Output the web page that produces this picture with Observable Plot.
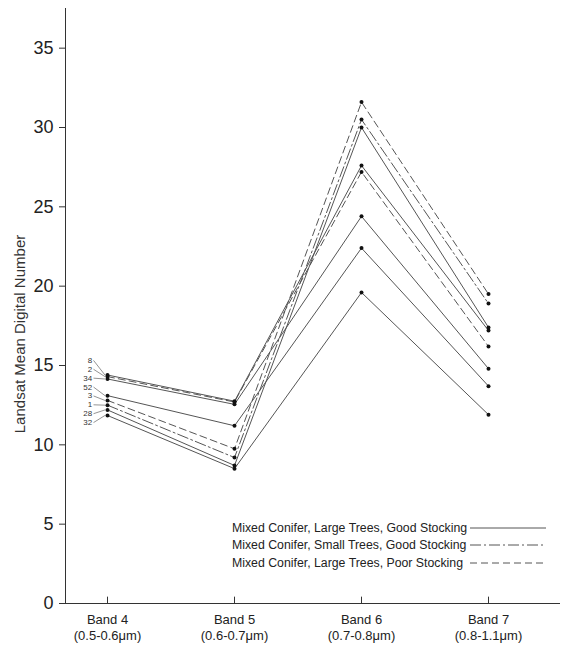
<!DOCTYPE html>
<html>
<head>
<meta charset="utf-8">
<script src="https://cdn.jsdelivr.net/npm/d3@7"></script>
<script src="https://cdn.jsdelivr.net/npm/@observablehq/plot@0.6"></script>
<style>
  html, body { margin: 0; padding: 0; background: #fff; }
  #wrap { position: relative; width: 569px; height: 646px; font-family: "Liberation Sans", Arial, sans-serif; }
  #legend { position: absolute; left: 232px; top: 519px; font-size: 12.3px; color: #222; }
  #legend .row { display: flex; align-items: center; height: 17.5px; white-space: nowrap; }
  #legend .lab { width: 238px; }
</style>
</head>
<body>
<div id="wrap"></div>
<script>
// ---- data ----
const bands = ["Band 4", "Band 5", "Band 6", "Band 7"];
const bandRanges = ["(0.5-0.6μm)", "(0.6-0.7μm)", "(0.7-0.8μm)", "(0.8-1.1μm)"];
const lineLabels = ["8", "2", "34", "52", "3", "1", "28", "32"];
const lineTypes  = ["LG", "LP", "LG", "LG", "LP", "SG", "LG", "LG"];
const band4 = [14.4, 14.3, 14.15, 13.1, 12.8, 12.5, 12.2, 11.85];
const band5 = [12.75, 12.7, 12.55, 11.2, 9.75, 9.2, 8.7, 8.5];
const band6 = [27.6, 27.2, 24.4, 22.4, 31.6, 30.5, 30.0, 19.6];
const band7 = [17.2, 16.2, 14.8, 13.7, 19.5, 18.9, 17.4, 11.9];
const typeKeys = ["LG", "SG", "LP"];
const typeNames = [
  "Mixed Conifer, Large Trees, Good Stocking",
  "Mixed Conifer, Small Trees, Good Stocking",
  "Mixed Conifer, Large Trees, Poor Stocking"
];
const yTicks = [0, 5, 10, 15, 20, 25, 30, 35];
const yLabel = "Landsat Mean Digital Number";

// ---- styles ----
const dash = {LG: null, SG: "11,3,2,3", LP: "7,4"};
const lineColor = "#555";

const cols = [band4, band5, band6, band7];
const rows = lineLabels.flatMap((lab, i) =>
  cols.map((arr, j) => ({line: lab, type: lineTypes[i], x: j, y: arr[i]})));

// label positions: relax overlapping labels apart
const order = d3.range(lineLabels.length).sort((a, b) => band4[b] - band4[a]);
const pos = order.map(i => band4[i]);
const gap = 0.56;
for (let it = 0; it < 400; it++) {
  for (let k = 1; k < pos.length; k++) {
    const d = pos[k - 1] - pos[k];
    if (d < gap) { const s = (gap - d) / 2; pos[k - 1] += s; pos[k] -= s; }
  }
}
const labs = order.map((i, k) => ({text: lineLabels[i], ly: pos[k] + 0.2, py: band4[i]}));

const chart = Plot.plot({
  width: 569,
  height: 646,
  marginLeft: 65,
  marginRight: 9,
  marginTop: 8,
  marginBottom: 43,
  style: {fontFamily: "Liberation Sans, Arial, sans-serif", color: "#222", background: "#fff"},
  x: {type: "linear", domain: [0, 3], range: [107, 488]},
  y: {domain: [0, 37.5]},
  marks: [
    Plot.frame({anchor: "left", stroke: "#333"}),
    Plot.ruleY([0], {stroke: "#333"}),
    Plot.axisY({ticks: yTicks, tickSize: 6, tickPadding: 6, fontSize: 18, label: null, stroke: "#333"}),
    Plot.ruleX(d3.range(bands.length), {y1: 0, y2: 0.4, stroke: "#333"}),
    Plot.axisX({ticks: d3.range(bands.length), tickSize: 0, tickPadding: 9, fontSize: 13, lineHeight: 1.25,
      tickFormat: i => bands[i] + "\n" + bandRanges[i], label: null}),
    Plot.text([yLabel], {text: d => d, frameAnchor: "left", textAnchor: "middle", rotate: -90, dx: -45, dy: 28, fontSize: 15, fill: "#333"}),
    ...typeKeys.map(t => Plot.line(rows.filter(r => r.type === t),
      {x: "x", y: "y", z: "line", stroke: lineColor, strokeWidth: 1, strokeDasharray: dash[t]})),
    Plot.dot(rows, {x: "x", y: "y", r: 2, fill: "#111"}),
    Plot.link(labs, {x1: -0.11, y1: "ly", x2: -0.02, y2: "py", stroke: "#666", strokeWidth: 0.7}),
    Plot.text(labs, {x: -0.12, y: "ly", text: "text", textAnchor: "end", fontSize: 8, fill: "#333"})
  ]
});

const wrap = document.getElementById("wrap");
wrap.appendChild(chart);
const legend = document.createElement("div");
legend.id = "legend";
typeKeys.forEach((t, i) => {
  const row = document.createElement("div");
  row.className = "row";
  const lab = document.createElement("span");
  lab.className = "lab";
  lab.textContent = typeNames[i];
  row.appendChild(lab);
  const svg = d3.create("svg").attr("width", 76).attr("height", 6);
  svg.append("line").attr("x1", 0).attr("x2", 76).attr("y1", 3).attr("y2", 3)
    .attr("stroke", lineColor).attr("stroke-width", 1)
    .attr("stroke-dasharray", dash[t]);
  row.appendChild(svg.node());
  legend.appendChild(row);
});
wrap.appendChild(legend);
</script>
</body>
</html>
